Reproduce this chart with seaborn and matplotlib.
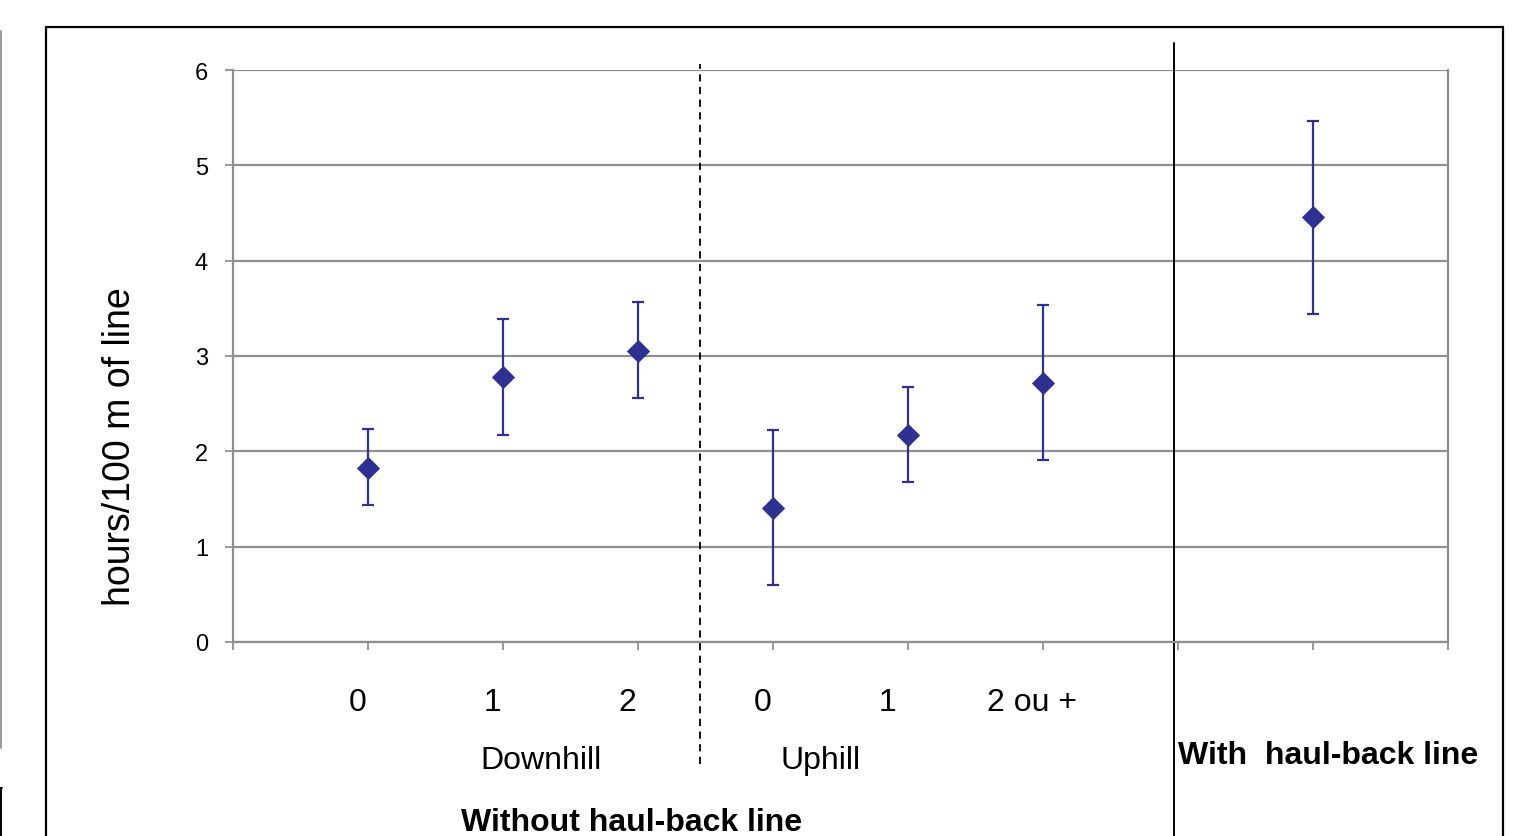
import numpy as np
import pandas as pd
import matplotlib
matplotlib.use("Agg")
import matplotlib.pyplot as plt
import seaborn as sns
from matplotlib.lines import Line2D

# values
positions = [1, 2, 3, 4, 5, 6, 8]
means = [1.83, 2.78, 3.05, 1.41, 2.17, 2.72, 4.46]
upper = [2.23, 3.39, 3.57, 2.22, 2.67, 3.54, 5.47]
lower = [1.44, 2.17, 2.56, 0.60, 1.68, 1.91, 3.44]
tick_labels = ["0", "1", "2", "0", "1", "2 ou +"]
group_labels = ["Downhill", "Uphill"]

navy = "#2E3192"
grid_gray = "#8F8F8F"

sns.set_style("white")
plt.rcParams["font.family"] = ["Liberation Sans", "DejaVu Sans"]
plt.rcParams["text.color"] = "black"
plt.rcParams["ytick.labelcolor"] = "black"

df = pd.DataFrame({"x": positions, "y": means, "lo": lower, "hi": upper})

fig = plt.figure(figsize=(15.36, 8.37), dpi=100)
ax = fig.add_axes([233 / 1536, 1 - 643 / 837, 1215 / 1536, 572 / 837])

yerr = np.array([df["y"] - df["lo"], df["hi"] - df["y"]])
ax.errorbar(df["x"], df["y"], yerr=yerr, fmt="none", ecolor=navy,
            elinewidth=1.6, capsize=4.5, capthick=1.6, zorder=3)
sns.scatterplot(data=df, x="x", y="y", marker="D", s=140, color=navy,
                edgecolor=navy, linewidth=0, ax=ax, zorder=4)

ax.set_xlim(0, 9)
ax.set_ylim(0, 6)
ax.set_yticks(range(0, 7))
ax.set_xticks(range(0, 10))
ax.set_xticklabels([""] * 10)
ax.yaxis.grid(True, color=grid_gray, linewidth=1.6)
ax.set_axisbelow(True)
for sp in ax.spines.values():
    sp.set_color(grid_gray)
    sp.set_linewidth(1.6)
ax.spines["top"].set_visible(False)
ax.tick_params(axis="both", direction="out", length=6, width=1.3, color=grid_gray,
               left=True, bottom=True)
ax.tick_params(axis="y", labelsize=17, pad=12)
ax.set_xlabel("")
ax.set_ylabel("")
ax.text(-0.093, 0.343, "hours/100 m of line", transform=ax.transAxes,
        rotation=90, ha="center", va="center", fontsize=27)

# category labels under the axis
xt = ax.get_xaxis_transform()
for x, lab in zip(positions[:6], tick_labels):
    shift = 0.15 if x == 5 else 0.08
    ax.text(x - shift, -0.105, lab, transform=xt,
            ha="center", va="center", fontsize=23)
ax.text(2.285, -0.207, group_labels[0], transform=xt,
        ha="center", va="center", fontsize=23)
ax.text(4.356, -0.207, group_labels[1], transform=xt,
        ha="center", va="center", fontsize=23)
ax.text(2.95, -0.315, "Without haul-back line", transform=xt,
        ha="center", va="center", fontsize=23, fontweight="bold")
ax.text(8.11, -0.197, "With  haul-back line", transform=xt,
        ha="center", va="center", fontsize=23, fontweight="bold")

# separators
ax.axvline(3.46, ymin=-0.213, ymax=1.01, color="black", linestyle=(0, (4, 3)),
           linewidth=1.3, clip_on=False, zorder=2)
ax.axvline(6.97, ymin=-0.34, ymax=1.047, color="black", linewidth=1.4,
           clip_on=False, zorder=2)

# outer frame of the figure
fh = 837
fw = 1536
frame = [((46, 28), (1503, 28)), ((46, 28), (46, 837)), ((1503, 28), (1503, 837))]
for (x0, y0), (x1, y1) in frame:
    fig.add_artist(Line2D([x0 / fw, x1 / fw], [1 - y0 / fh, 1 - y1 / fh],
                          color="black", linewidth=1.6))
fig.add_artist(Line2D([1 / fw, 1 / fw], [1 - 32 / fh, 1 - 749 / fh],
                      color="#9A9A9A", linewidth=1.4))
fig.add_artist(Line2D([1 / fw, 1 / fw], [1 - 789 / fh, 0],
                      color="black", linewidth=1.4))
fig.add_artist(Line2D([0, 2 / fw], [1 - 789 / fh, 1 - 789 / fh],
                      color="black", linewidth=1.4))

fig.savefig("out.png", dpi=100)
